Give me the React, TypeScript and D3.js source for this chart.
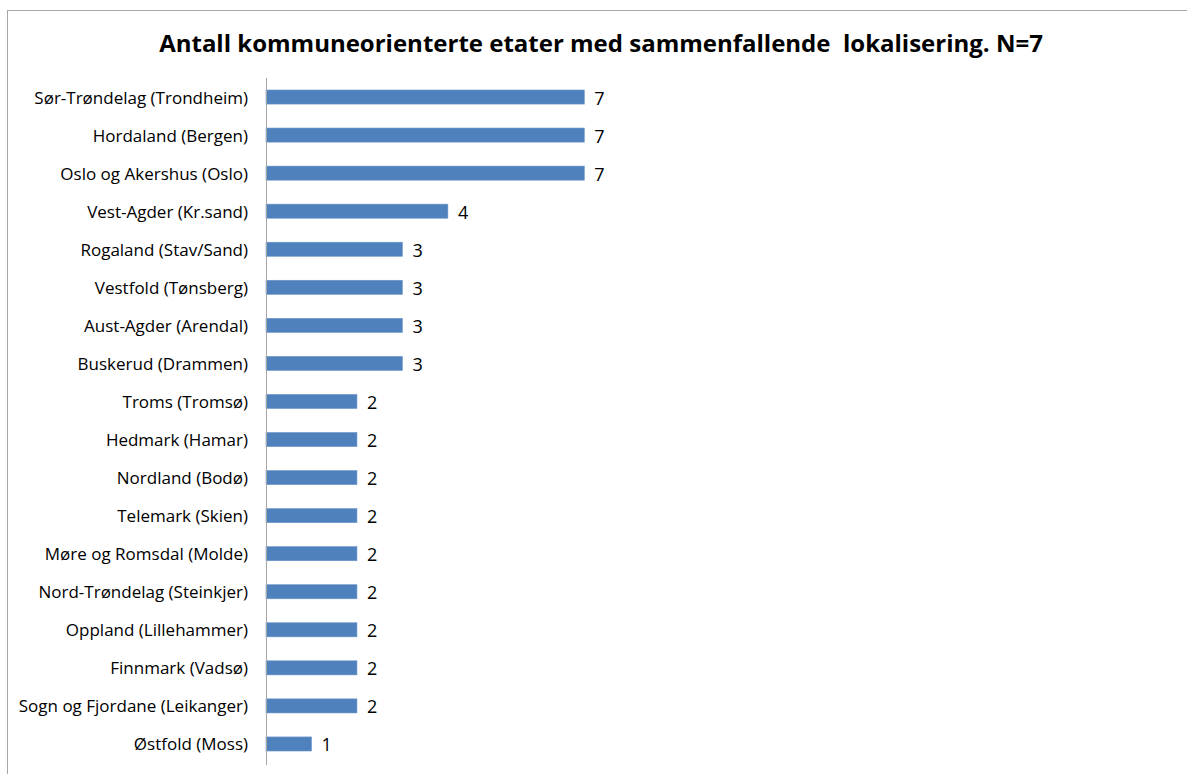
import React from "react";
import * as d3 from "d3";

const categories = [
  "Sør-Trøndelag (Trondheim)",
  "Hordaland (Bergen)",
  "Oslo og Akershus (Oslo)",
  "Vest-Agder (Kr.sand)",
  "Rogaland (Stav/Sand)",
  "Vestfold (Tønsberg)",
  "Aust-Agder (Arendal)",
  "Buskerud (Drammen)",
  "Troms (Tromsø)",
  "Hedmark (Hamar)",
  "Nordland (Bodø)",
  "Telemark (Skien)",
  "Møre og Romsdal (Molde)",
  "Nord-Trøndelag (Steinkjer)",
  "Oppland (Lillehammer)",
  "Finnmark (Vadsø)",
  "Sogn og Fjordane (Leikanger)",
  "Østfold (Moss)",
];
const values = [7, 7, 7, 4, 3, 3, 3, 3, 2, 2, 2, 2, 2, 2, 2, 2, 2, 1];
const title = "Antall kommuneorienterte etater med sammenfallende  lokalisering. N=7";

export default function App() {
  const W = 1187, H = 774;
  const x0 = 266;
  const x = d3.scaleLinear().domain([0, 7]).range([x0, 584.3]);
  const y = d3.scaleBand<string>().domain(categories).range([78, 763]).paddingInner(0.63).paddingOuter(0.315);
  const font = "'Open Sans', sans-serif";
  return (
    <svg width={W} height={H} style={{ position: "absolute", left: 0, top: 0, background: "#fff" }}>
      <rect x={7.5} y={10.5} width={W + 10} height={H + 10} fill="#fff" stroke="#a6a6a6" strokeWidth={1} />
      <text x={601} y={52} textAnchor="middle" fontFamily={font} fontWeight="bold" fontSize={24} fill="#000" style={{ whiteSpace: "pre" }}>
        {title}
      </text>
      {categories.map((c, i) => {
        const by = y(c)!;
        const bh = y.bandwidth();
        const cy = by + bh / 2;
        return (
          <g key={c}>
            <rect x={x(0)} y={by} width={x(values[i]) - x(0)} height={bh} fill="#4f81bd" stroke="#6d96c9" strokeWidth={0.6} />
            <text x={248} y={cy + 6.5} textAnchor="end" fontFamily={font} fontSize={17} fill="#000">{c}</text>
            <text x={x(values[i]) + 10} y={cy + 7.5} textAnchor="start" fontFamily={font} fontSize={18} fill="#000">{values[i]}</text>
          </g>
        );
      })}
      <line x1={x0 + 0.5} x2={x0 + 0.5} y1={78} y2={765} stroke="#a6a6a6" strokeWidth={1} />
    </svg>
  );
}
